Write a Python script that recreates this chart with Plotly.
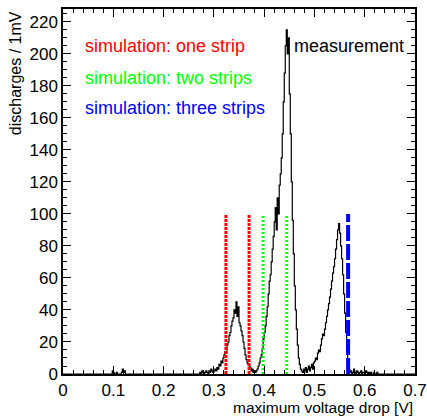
import plotly.graph_objects as go

main_start_mV = 270
main_counts = [
    0, 1, 0, 2, 1, 0, 1, 2, 1, 0, 2, 1, 3, 2, 1,
    2, 3, 2, 4, 3, 6, 5, 8, 7, 10,
    12, 14, 13, 18, 20, 24, 26, 30, 33, 35, 40, 38, 45,
    36, 42, 32, 30, 27, 24, 20, 16, 12, 9, 7, 6,
    5, 4, 2, 3, 1, 2, 1, 2, 3, 5,
    7, 10, 12, 16, 22, 26, 30, 36, 42, 50, 58, 62, 70, 78, 86,
    95, 104, 90, 110, 100, 118, 125, 135, 150, 170, 188, 205,
    215, 200, 210, 175, 150, 120, 96, 75, 55, 40, 28, 18, 10, 6,
    3, 2, 1, 3, 2, 4, 1, 3, 5, 2, 4, 6, 3, 7,
    8, 10, 9, 13, 15, 14, 18, 22, 25, 24, 28, 32, 36, 40, 44,
    48, 53, 58, 63, 67, 72, 78, 84, 90, 94, 88, 80, 72, 62, 50,
    38, 26, 14, 6, 3, 1, 2, 0, 1, 3,
    1, 0, 2, 1, 0, 1, 2, 0, 1, 1, 0, 2, 1, 0, 1, 0, 1, 0, 0, 1, 0, 0, 1, 0, 0,
]
low_start_mV = 98
low_counts = [2, 1, 0, 0, 1, 0, 0, 0, 0, 1, 3, 1, 2]
bin_width_mV = 2
x_max_mV = 700

# simulation lines (V)
sim_one = [0.324, 0.370]
sim_two = [0.398, 0.445]
sim_three = [0.567]
sim_height = 100

# build full histogram
n_bins = x_max_mV // bin_width_mV
counts = [0] * n_bins
for i, c in enumerate(low_counts):
    counts[(low_start_mV // bin_width_mV) + i] = c
for i, c in enumerate(main_counts):
    counts[(main_start_mV // bin_width_mV) + i] = c
edges = [i * bin_width_mV / 1000 for i in range(n_bins + 1)]
ys = counts + [counts[-1]]

FONT = "Liberation Sans, Arial, Helvetica, sans-serif"
fig = go.Figure()
fig.add_trace(go.Scatter(x=edges, y=ys, mode="lines", line=dict(color="black", width=1.2, shape="hv"),
                         showlegend=False, hoverinfo="skip"))

def vline(xv, color, dash, width):
    fig.add_trace(go.Scatter(x=[xv, xv], y=[0, sim_height], mode="lines",
                             line=dict(color=color, dash=dash, width=width),
                             showlegend=False, hoverinfo="skip"))

for v in sim_one:
    vline(v, "#ff0000", "3px,1px", 3)
for v in sim_two:
    vline(v, "#00ff00", "2px,2px", 3)
for v in sim_three:
    vline(v, "#0000ff", "16px,3px", 4)

axis_common = dict(showgrid=False, zeroline=False, showline=True, linecolor="black", linewidth=1.5,
                   mirror="allticks", ticks="inside", ticklen=8, tickwidth=1, tickcolor="black",
                   automargin=False,
                   tickfont=dict(family=FONT, size=17, color="black"))

fig.update_xaxes(range=[0, 0.7], tickvals=[0, 0.1, 0.2, 0.3, 0.4, 0.5, 0.6, 0.7],
                 ticktext=["0", "0.1", "0.2", "0.3", "0.4", "0.5", "0.6", "0.7"],
                 minor=dict(ticks="inside", dtick=0.02, ticklen=4, tickcolor="black"),
                 **axis_common)
fig.update_yaxes(range=[0, 228], tickvals=list(range(0, 221, 20)),
                 minor=dict(ticks="inside", dtick=5, ticklen=4, tickcolor="black"),
                 **axis_common)

annots = [
    dict(text="simulation: one strip", x=0.04, y=205, color="#ff0000", xanchor="left"),
    dict(text="simulation: two strips", x=0.04, y=185, color="#00ff00", xanchor="left"),
    dict(text="simulation: three strips", x=0.04, y=166, color="#0000ff", xanchor="left"),
    dict(text="measurement", x=0.682, y=205, color="black", xanchor="right"),
]
for a in annots:
    fig.add_annotation(text=a["text"], x=a["x"], y=a["y"], xref="x", yref="y",
                       xanchor=a["xanchor"], yanchor="middle", showarrow=False,
                       font=dict(family=FONT, size=18, color=a["color"]))

fig.add_annotation(text="maximum voltage drop [V]", xref="paper", yref="paper", x=1.0, y=-0.093,
                   xanchor="right", yanchor="middle", showarrow=False,
                   font=dict(family=FONT, size=15.5, color="black"))
fig.add_annotation(text="discharges / 1mV", xref="paper", yref="paper", x=-0.136, y=1.0,
                   xanchor="center", yanchor="top", textangle=-90, showarrow=False,
                   font=dict(family=FONT, size=16, color="black"))

fig.update_layout(width=427, height=417, margin=dict(l=63, r=12, t=9, b=43),
                  paper_bgcolor="white", plot_bgcolor="white")
fig.write_html("out.html")
